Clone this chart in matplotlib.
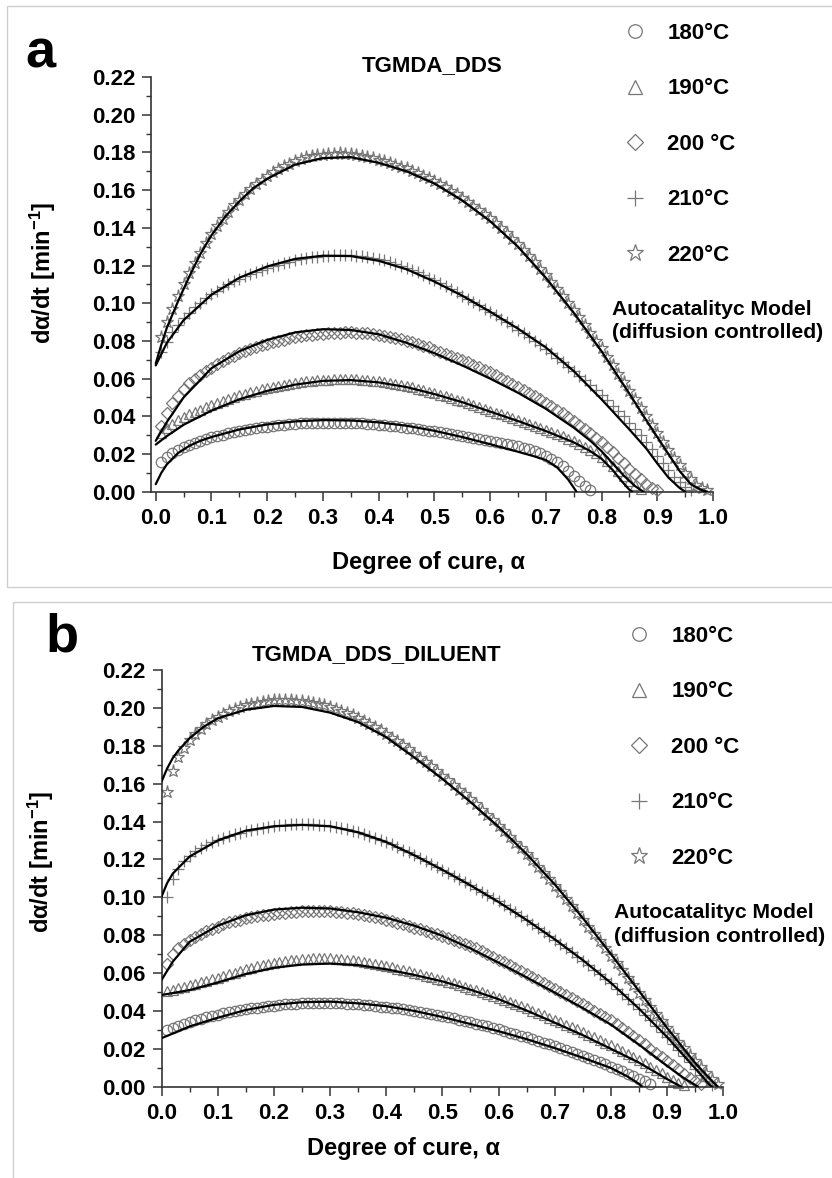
import matplotlib
matplotlib.use("Agg")
import matplotlib.pyplot as plt
from matplotlib.lines import Line2D
from matplotlib.patches import Rectangle
from matplotlib.ticker import MultipleLocator, FormatStrFormatter
import numpy as np

plt.rcParams['font.family'] = ['Liberation Sans', 'DejaVu Sans']
plt.rcParams['font.weight'] = 'bold'
plt.rcParams['axes.labelweight'] = 'bold'
plt.rcParams['mathtext.fontset'] = 'custom'
plt.rcParams['mathtext.rm'] = 'Liberation Sans:bold'
plt.rcParams['mathtext.bf'] = 'Liberation Sans:bold'
plt.rcParams['mathtext.it'] = 'Liberation Sans:bold'

temps = ['180°C', '190°C', '200 °C', '210°C', '220°C']
markers = ['o', '^', 'D', '+', '*']
marker_sizes = [7.5, 7.5, 6.3, 8.5, 9.5]

# ---------------- (a) TGMDA_DDS : experimental points, step 0.01 in alpha from 0.01
a180 = [0.0155, 0.0185, 0.0205, 0.0222, 0.0237, 0.0250, 0.0261, 0.0271, 0.0280, 0.0288,
        0.0296, 0.0303, 0.0310, 0.0316, 0.0322, 0.0327, 0.0332, 0.0337, 0.0341, 0.0345,
        0.0349, 0.0352, 0.0355, 0.0358, 0.0360, 0.0362, 0.0364, 0.0365, 0.0366, 0.0367,
        0.0367, 0.0367, 0.0367, 0.0366, 0.0365, 0.0364, 0.0362, 0.0360, 0.0358, 0.0356,
        0.0353, 0.0350, 0.0347, 0.0344, 0.0340, 0.0336, 0.0332, 0.0328, 0.0324, 0.0320,
        0.0315, 0.0311, 0.0306, 0.0301, 0.0296, 0.0291, 0.0286, 0.0281, 0.0276, 0.0271,
        0.0265, 0.0259, 0.0253, 0.0247, 0.0240, 0.0233, 0.0225, 0.0216, 0.0205, 0.0192,
        0.0176, 0.0157, 0.0135, 0.0110, 0.0083, 0.0055, 0.0030, 0.0010]
a190 = [0.0310, 0.0340, 0.0360, 0.0380, 0.0395, 0.0410, 0.0423, 0.0436, 0.0448, 0.0460,
        0.0471, 0.0482, 0.0492, 0.0502, 0.0511, 0.0520, 0.0528, 0.0536, 0.0543, 0.0550,
        0.0556, 0.0562, 0.0567, 0.0572, 0.0577, 0.0581, 0.0585, 0.0588, 0.0591, 0.0593,
        0.0595, 0.0596, 0.0597, 0.0597, 0.0597, 0.0596, 0.0594, 0.0592, 0.0589, 0.0586,
        0.0582, 0.0577, 0.0572, 0.0566, 0.0560, 0.0553, 0.0546, 0.0539, 0.0531, 0.0523,
        0.0515, 0.0506, 0.0497, 0.0488, 0.0479, 0.0469, 0.0460, 0.0450, 0.0440, 0.0430,
        0.0420, 0.0410, 0.0400, 0.0390, 0.0380, 0.0370, 0.0360, 0.0350, 0.0339, 0.0328,
        0.0317, 0.0305, 0.0293, 0.0280, 0.0267, 0.0253, 0.0238, 0.0222, 0.0204, 0.0184,
        0.0162, 0.0138, 0.0112, 0.0085, 0.0058, 0.0033, 0.0012]
a200 = [0.0350, 0.0420, 0.0470, 0.0510, 0.0545, 0.0575, 0.0600, 0.0620, 0.0640, 0.0657,
        0.0680, 0.0695, 0.0709, 0.0722, 0.0734, 0.0746, 0.0757, 0.0767, 0.0776, 0.0785,
        0.0793, 0.0800, 0.0807, 0.0813, 0.0819, 0.0824, 0.0829, 0.0833, 0.0836, 0.0839,
        0.0841, 0.0843, 0.0844, 0.0845, 0.0845, 0.0844, 0.0842, 0.0840, 0.0837, 0.0833,
        0.0828, 0.0822, 0.0816, 0.0809, 0.0801, 0.0793, 0.0784, 0.0775, 0.0765, 0.0754,
        0.0742, 0.0732, 0.0721, 0.0710, 0.0698, 0.0686, 0.0673, 0.0660, 0.0647, 0.0633,
        0.0619, 0.0604, 0.0589, 0.0574, 0.0558, 0.0542, 0.0525, 0.0508, 0.0491, 0.0473,
        0.0455, 0.0436, 0.0417, 0.0397, 0.0377, 0.0356, 0.0334, 0.0311, 0.0287, 0.0262,
        0.0236, 0.0209, 0.0181, 0.0152, 0.0122, 0.0093, 0.0066, 0.0042, 0.0022, 0.0008]
a210 = [0.0740, 0.0795, 0.0845, 0.0885, 0.0920, 0.0950, 0.0978, 0.1003, 0.1026, 0.1047,
        0.1066, 0.1084, 0.1101, 0.1116, 0.1130, 0.1143, 0.1155, 0.1166, 0.1177, 0.1187,
        0.1196, 0.1205, 0.1213, 0.1220, 0.1227, 0.1233, 0.1238, 0.1243, 0.1247, 0.1250,
        0.1252, 0.1254, 0.1255, 0.1255, 0.1254, 0.1252, 0.1249, 0.1245, 0.1240, 0.1234,
        0.1227, 0.1219, 0.1210, 0.1200, 0.1189, 0.1177, 0.1164, 0.1150, 0.1136, 0.1121,
        0.1106, 0.1090, 0.1074, 0.1057, 0.1040, 0.1023, 0.1006, 0.0989, 0.0971, 0.0953,
        0.0935, 0.0917, 0.0898, 0.0879, 0.0860, 0.0840, 0.0820, 0.0799, 0.0778, 0.0756,
        0.0734, 0.0711, 0.0688, 0.0664, 0.0640, 0.0615, 0.0590, 0.0564, 0.0538, 0.0511,
        0.0484, 0.0456, 0.0428, 0.0399, 0.0367, 0.0334, 0.0300, 0.0265, 0.0228, 0.0190,
        0.0152, 0.0115, 0.0080, 0.0050, 0.0025, 0.0010]
a220 = [0.0820, 0.0900, 0.0970, 0.1040, 0.1100, 0.1160, 0.1215, 0.1268, 0.1318, 0.1365,
        0.1408, 0.1448, 0.1485, 0.1519, 0.1550, 0.1579, 0.1606, 0.1631, 0.1654, 0.1675,
        0.1694, 0.1711, 0.1727, 0.1741, 0.1753, 0.1764, 0.1773, 0.1779, 0.1784, 0.1788,
        0.1792, 0.1794, 0.1795, 0.1794, 0.1791, 0.1787, 0.1782, 0.1776, 0.1768, 0.1760,
        0.1752, 0.1743, 0.1734, 0.1725, 0.1715, 0.1703, 0.1690, 0.1677, 0.1664, 0.1650,
        0.1633, 0.1615, 0.1597, 0.1579, 0.1560, 0.1539, 0.1517, 0.1495, 0.1473, 0.1450,
        0.1424, 0.1397, 0.1370, 0.1343, 0.1315, 0.1283, 0.1250, 0.1217, 0.1184, 0.1150,
        0.1114, 0.1077, 0.1040, 0.1003, 0.0965, 0.0925, 0.0884, 0.0843, 0.0802, 0.0760,
        0.0716, 0.0671, 0.0626, 0.0581, 0.0535, 0.0490, 0.0445, 0.0400, 0.0355, 0.0310,
        0.0265, 0.0222, 0.0180, 0.0140, 0.0100, 0.0065, 0.0038, 0.0018, 0.0007]

# (a) model curves (autocatalytic, diffusion controlled)
fa180_x = [0.0, 0.01, 0.02, 0.04, 0.06, 0.08, 0.10, 0.15, 0.20, 0.25, 0.30, 0.35, 0.40,
           0.45, 0.50, 0.55, 0.60, 0.65, 0.68, 0.70, 0.72, 0.74, 0.755]
fa180_y = [0.0040, 0.0100, 0.0145, 0.0205, 0.0243, 0.0270, 0.0290, 0.0330, 0.0357, 0.0373,
           0.0380, 0.0378, 0.0368, 0.0350, 0.0323, 0.0290, 0.0252, 0.0212, 0.0187, 0.0168,
           0.0130, 0.0065, 0.0]
fa190_x = [0.0, 0.02, 0.05, 0.10, 0.15, 0.20, 0.25, 0.30, 0.35, 0.40, 0.45, 0.50, 0.55,
           0.60, 0.65, 0.70, 0.75, 0.78, 0.80, 0.82, 0.835, 0.85, 0.855]
fa190_y = [0.0250, 0.0295, 0.0355, 0.0430, 0.0490, 0.0535, 0.0568, 0.0588, 0.0592, 0.0580,
           0.0555, 0.0518, 0.0475, 0.0425, 0.0375, 0.0322, 0.0262, 0.0215, 0.0175, 0.0115,
           0.0060, 0.0010, 0.0]
fa200_x = [0.0, 0.02, 0.05, 0.10, 0.15, 0.20, 0.25, 0.30, 0.35, 0.40, 0.45, 0.50, 0.55,
           0.60, 0.65, 0.70, 0.75, 0.78, 0.80, 0.82, 0.84, 0.86, 0.875]
fa200_y = [0.0270, 0.0370, 0.0500, 0.0655, 0.0745, 0.0805, 0.0845, 0.0862, 0.0858, 0.0835,
           0.0790, 0.0735, 0.0670, 0.0600, 0.0525, 0.0440, 0.0340, 0.0270, 0.0215, 0.0150,
           0.0085, 0.0030, 0.0]
fa210_x = [0.0, 0.02, 0.05, 0.10, 0.15, 0.20, 0.25, 0.30, 0.35, 0.40, 0.45, 0.50, 0.55,
           0.60, 0.65, 0.70, 0.75, 0.80, 0.85, 0.88, 0.90, 0.92, 0.94, 0.95]
fa210_y = [0.0670, 0.0790, 0.0910, 0.1045, 0.1135, 0.1195, 0.1235, 0.1252, 0.1250, 0.1225,
           0.1180, 0.1115, 0.1040, 0.0955, 0.0865, 0.0765, 0.0640, 0.0490, 0.0330, 0.0230,
           0.0150, 0.0075, 0.0020, 0.0]
fa220_x = [0.0, 0.01, 0.02, 0.04, 0.06, 0.08, 0.10, 0.125, 0.15, 0.175, 0.20, 0.25, 0.30,
           0.35, 0.40, 0.45, 0.50, 0.55, 0.60, 0.65, 0.70, 0.75, 0.80, 0.85, 0.88, 0.90,
           0.92, 0.94, 0.96, 0.98, 0.99]
fa220_y = [0.0680, 0.0780, 0.0870, 0.1010, 0.1140, 0.1260, 0.1360, 0.1460, 0.1540, 0.1610,
           0.1660, 0.1735, 0.1770, 0.1775, 0.1745, 0.1700, 0.1635, 0.1545, 0.1435, 0.1300,
           0.1135, 0.0950, 0.0745, 0.0520, 0.0380, 0.0290, 0.0200, 0.0110, 0.0040, 0.0008,
           0.0]

# ---------------- (b) TGMDA_DDS_DILUENT : experimental points
b180 = [0.0300, 0.0312, 0.0323, 0.0333, 0.0342, 0.0351, 0.0359, 0.0367, 0.0374, 0.0381,
        0.0387, 0.0393, 0.0399, 0.0404, 0.0409, 0.0413, 0.0417, 0.0421, 0.0424, 0.0428,
        0.0431, 0.0434, 0.0436, 0.0438, 0.0440, 0.0441, 0.0442, 0.0443, 0.0443, 0.0443,
        0.0442, 0.0441, 0.0439, 0.0437, 0.0435, 0.0432, 0.0429, 0.0426, 0.0423, 0.0420,
        0.0417, 0.0413, 0.0409, 0.0405, 0.0400, 0.0396, 0.0391, 0.0386, 0.0381, 0.0375,
        0.0368, 0.0361, 0.0354, 0.0347, 0.0340, 0.0333, 0.0325, 0.0318, 0.0310, 0.0302,
        0.0294, 0.0286, 0.0278, 0.0269, 0.0260, 0.0251, 0.0242, 0.0232, 0.0223, 0.0213,
        0.0203, 0.0193, 0.0183, 0.0172, 0.0162, 0.0151, 0.0140, 0.0129, 0.0118, 0.0106,
        0.0094, 0.0082, 0.0069, 0.0056, 0.0043, 0.0028, 0.0012]
b190 = [0.0505, 0.0512, 0.0519, 0.0527, 0.0535, 0.0543, 0.0551, 0.0559, 0.0567, 0.0575,
        0.0584, 0.0593, 0.0602, 0.0611, 0.0620, 0.0628, 0.0635, 0.0642, 0.0648, 0.0654,
        0.0659, 0.0664, 0.0668, 0.0671, 0.0674, 0.0676, 0.0677, 0.0678, 0.0678, 0.0677,
        0.0676, 0.0674, 0.0671, 0.0668, 0.0664, 0.0659, 0.0654, 0.0648, 0.0642, 0.0636,
        0.0630, 0.0623, 0.0616, 0.0609, 0.0602, 0.0595, 0.0587, 0.0579, 0.0571, 0.0563,
        0.0554, 0.0545, 0.0536, 0.0527, 0.0518, 0.0508, 0.0498, 0.0488, 0.0478, 0.0468,
        0.0457, 0.0446, 0.0435, 0.0424, 0.0413, 0.0401, 0.0389, 0.0377, 0.0365, 0.0353,
        0.0341, 0.0328, 0.0315, 0.0302, 0.0289, 0.0275, 0.0261, 0.0247, 0.0233, 0.0218,
        0.0203, 0.0188, 0.0172, 0.0156, 0.0140, 0.0123, 0.0106, 0.0088, 0.0070, 0.0052,
        0.0035, 0.0019, 0.0007]
b200 = [0.0650, 0.0700, 0.0730, 0.0755, 0.0775, 0.0792, 0.0807, 0.0820, 0.0831, 0.0841,
        0.0858, 0.0867, 0.0875, 0.0882, 0.0889, 0.0895, 0.0900, 0.0905, 0.0909, 0.0913,
        0.0916, 0.0919, 0.0921, 0.0923, 0.0925, 0.0926, 0.0926, 0.0926, 0.0926, 0.0925,
        0.0923, 0.0921, 0.0918, 0.0915, 0.0911, 0.0906, 0.0901, 0.0895, 0.0889, 0.0882,
        0.0874, 0.0866, 0.0858, 0.0849, 0.0840, 0.0832, 0.0823, 0.0814, 0.0805, 0.0796,
        0.0786, 0.0776, 0.0766, 0.0756, 0.0745, 0.0731, 0.0716, 0.0701, 0.0686, 0.0671,
        0.0656, 0.0641, 0.0626, 0.0611, 0.0596, 0.0580, 0.0564, 0.0548, 0.0532, 0.0516,
        0.0500, 0.0484, 0.0468, 0.0452, 0.0436, 0.0419, 0.0402, 0.0385, 0.0368, 0.0350,
        0.0330, 0.0309, 0.0288, 0.0267, 0.0245, 0.0223, 0.0201, 0.0179, 0.0157, 0.0135,
        0.0113, 0.0091, 0.0069, 0.0048, 0.0028, 0.0012]
b210 = [0.1000, 0.1095, 0.1150, 0.1190, 0.1220, 0.1243, 0.1262, 0.1278, 0.1292, 0.1304,
        0.1315, 0.1325, 0.1334, 0.1342, 0.1350, 0.1357, 0.1363, 0.1368, 0.1373, 0.1377,
        0.1380, 0.1383, 0.1385, 0.1386, 0.1387, 0.1387, 0.1386, 0.1384, 0.1381, 0.1377,
        0.1372, 0.1366, 0.1359, 0.1352, 0.1344, 0.1335, 0.1325, 0.1314, 0.1303, 0.1292,
        0.1279, 0.1265, 0.1251, 0.1237, 0.1222, 0.1207, 0.1192, 0.1177, 0.1161, 0.1145,
        0.1129, 0.1113, 0.1096, 0.1080, 0.1063, 0.1046, 0.1029, 0.1012, 0.0995, 0.0978,
        0.0959, 0.0939, 0.0920, 0.0900, 0.0880, 0.0859, 0.0838, 0.0817, 0.0796, 0.0775,
        0.0753, 0.0731, 0.0709, 0.0687, 0.0665, 0.0641, 0.0617, 0.0593, 0.0569, 0.0545,
        0.0518, 0.0491, 0.0464, 0.0437, 0.0410, 0.0381, 0.0351, 0.0321, 0.0291, 0.0262,
        0.0228, 0.0195, 0.0162, 0.0128, 0.0095, 0.0062, 0.0032, 0.0010]
b220 = [0.1555, 0.1665, 0.1740, 0.1790, 0.1830, 0.1862, 0.1890, 0.1914, 0.1935, 0.1953,
        0.1969, 0.1983, 0.1995, 0.2005, 0.2014, 0.2021, 0.2027, 0.2032, 0.2036, 0.2039,
        0.2040, 0.2041, 0.2040, 0.2038, 0.2035, 0.2031, 0.2026, 0.2020, 0.2013, 0.2005,
        0.1996, 0.1986, 0.1975, 0.1962, 0.1948, 0.1933, 0.1917, 0.1900, 0.1882, 0.1863,
        0.1843, 0.1823, 0.1802, 0.1781, 0.1759, 0.1737, 0.1714, 0.1691, 0.1667, 0.1643,
        0.1619, 0.1594, 0.1569, 0.1543, 0.1517, 0.1490, 0.1463, 0.1435, 0.1407, 0.1378,
        0.1349, 0.1319, 0.1289, 0.1258, 0.1227, 0.1195, 0.1162, 0.1129, 0.1095, 0.1061,
        0.1026, 0.0991, 0.0955, 0.0919, 0.0882, 0.0845, 0.0807, 0.0769, 0.0731, 0.0692,
        0.0653, 0.0614, 0.0575, 0.0536, 0.0497, 0.0459, 0.0421, 0.0383, 0.0346, 0.0309,
        0.0273, 0.0237, 0.0202, 0.0168, 0.0135, 0.0102, 0.0070, 0.0040, 0.0015]

# (b) model curves
fb180_x = [0.0, 0.05, 0.10, 0.15, 0.20, 0.25, 0.30, 0.35, 0.40, 0.45, 0.50, 0.55, 0.60,
           0.65, 0.70, 0.75, 0.80, 0.83, 0.85, 0.855]
fb180_y = [0.0256, 0.0318, 0.0364, 0.0405, 0.0432, 0.0446, 0.0449, 0.0440, 0.0425, 0.0400,
           0.0368, 0.0331, 0.0293, 0.0251, 0.0204, 0.0153, 0.0099, 0.0053, 0.0015, 0.0]
fb190_x = [0.0, 0.05, 0.10, 0.15, 0.20, 0.25, 0.30, 0.35, 0.40, 0.45, 0.50, 0.55, 0.60,
           0.65, 0.70, 0.75, 0.80, 0.85, 0.88, 0.90, 0.925]
fb190_y = [0.0484, 0.0510, 0.0550, 0.0595, 0.0628, 0.0645, 0.0650, 0.0642, 0.0620, 0.0590,
           0.0556, 0.0512, 0.0462, 0.0402, 0.0338, 0.0272, 0.0200, 0.0127, 0.0075, 0.0040,
           0.0]
fb200_x = [0.0, 0.02, 0.05, 0.10, 0.15, 0.20, 0.25, 0.30, 0.35, 0.40, 0.45, 0.50, 0.55,
           0.60, 0.65, 0.70, 0.75, 0.80, 0.85, 0.90, 0.93, 0.955]
fb200_y = [0.0563, 0.0660, 0.0765, 0.0850, 0.0905, 0.0935, 0.0945, 0.0941, 0.0921, 0.0892,
           0.0850, 0.0797, 0.0730, 0.0655, 0.0577, 0.0497, 0.0415, 0.0328, 0.0222, 0.0110,
           0.0045, 0.0]
fb210_x = [0.0, 0.01, 0.02, 0.05, 0.10, 0.15, 0.20, 0.25, 0.30, 0.35, 0.40, 0.45, 0.50,
           0.55, 0.60, 0.65, 0.70, 0.75, 0.80, 0.85, 0.90, 0.95, 0.975, 0.98]
fb210_y = [0.1003, 0.1075, 0.1125, 0.1215, 0.1300, 0.1352, 0.1375, 0.1382, 0.1375, 0.1343,
           0.1292, 0.1222, 0.1145, 0.1063, 0.0975, 0.0880, 0.0778, 0.0668, 0.0548, 0.0412,
           0.0262, 0.0097, 0.0012, 0.0]
fb220_x = [0.0, 0.01, 0.02, 0.03, 0.05, 0.075, 0.10, 0.15, 0.20, 0.25, 0.30, 0.35, 0.40,
           0.45, 0.50, 0.55, 0.60, 0.65, 0.70, 0.75, 0.80, 0.85, 0.90, 0.95, 0.98, 0.99]
fb220_y = [0.1610, 0.1680, 0.1735, 0.1775, 0.1840, 0.1900, 0.1945, 0.1990, 0.2010, 0.2005,
           0.1975, 0.1925, 0.1845, 0.1738, 0.1625, 0.1503, 0.1372, 0.1228, 0.1068, 0.0890,
           0.0700, 0.0505, 0.0310, 0.0125, 0.0030, 0.0]

GRAY = '#777777'
FS = 16


def alpha_steps(n):
    return np.round(np.arange(1, n + 1) * 0.01, 2)


def draw_panel(ax, points, fits, xmin):
    for pts, (fx, fy), m, ms in zip(points, fits, markers, marker_sizes):
        ax.plot(alpha_steps(len(pts)), pts, ls='none', marker=m, ms=ms, mfc='none',
                mec=GRAY, mew=0.9, clip_on=False, zorder=2)
        ax.plot(fx, fy, color='black', lw=1.6, zorder=3, solid_capstyle='round')
    ax.set_xlim(xmin, 1.0)
    ax.set_ylim(0, 0.22)
    ax.spines[['top', 'right']].set_visible(False)
    for s in ['left', 'bottom']:
        ax.spines[s].set_linewidth(1.2)
        ax.spines[s].set_color('#333333')
    ax.set_xticks(np.arange(0, 11) / 10)
    ax.set_yticks(np.arange(0, 12) * 0.02)
    ax.xaxis.set_minor_locator(MultipleLocator(0.05))
    ax.yaxis.set_minor_locator(MultipleLocator(0.01))
    ax.xaxis.set_major_formatter(FormatStrFormatter('%.1f'))
    ax.yaxis.set_major_formatter(FormatStrFormatter('%.2f'))
    ax.tick_params(which='major', length=6.5, width=1.1, color='#333333',
                   labelsize=FS, pad=5)
    ax.tick_params(which='minor', length=3.5, width=1.0, color='#333333')
    ax.set_xlabel('Degree of cure, α', fontsize=17, fontweight='bold')
    ax.set_ylabel('dα/dt [min$^{-1}$]', fontsize=17, fontweight='bold')


W, H = 832, 1178
fig = plt.figure(figsize=(W / 100, H / 100), dpi=100)

# panel frames
fig.add_artist(Rectangle((7 / W, 1 - 587 / H), 840 / W, 581 / H, transform=fig.transFigure,
                         fill=False, ec='#cfcfcf', lw=1.0))
fig.add_artist(Rectangle((13 / W, -10 / H), 840 / W, (H - 602 + 10) / H,
                         transform=fig.transFigure, fill=False, ec='#cfcfcf', lw=1.0))

ax_a = fig.add_axes([151 / W, 1 - 491.7 / H, 562 / W, 414.7 / H])
ax_b = fig.add_axes([161.5 / W, 1 - 1086.7 / H, 561.8 / W, 416.7 / H])

draw_panel(ax_a, [a180, a190, a200, a210, a220],
           [(fa180_x, fa180_y), (fa190_x, fa190_y), (fa200_x, fa200_y),
            (fa210_x, fa210_y), (fa220_x, fa220_y)], -0.0085)
draw_panel(ax_b, [b180, b190, b200, b210, b220],
           [(fb180_x, fb180_y), (fb190_x, fb190_y), (fb200_x, fb200_y),
            (fb210_x, fb210_y), (fb220_x, fb220_y)], 0.0)

ax_a.xaxis.set_label_coords(0.493, -0.143)
ax_a.yaxis.set_label_coords(-0.165, 0.527)
ax_b.xaxis.set_label_coords(0.43, -0.121)
ax_b.yaxis.set_label_coords(-0.187, 0.539)

ax_a.text(0.3754, 1.0145, 'TGMDA_DDS', transform=ax_a.transAxes, fontsize=FS,
          va='baseline')
ax_b.text(0.161, 1.024, 'TGMDA_DDS_DILUENT', transform=ax_b.transAxes, fontsize=FS,
          va='baseline')

fig.text(25 / W, 1 - 67 / H, 'a', fontsize=39, va='baseline')
fig.text(45 / W, 1 - 651 / H, 'b', fontsize=39, va='baseline')

handles = [Line2D([], [], ls='none', marker=m, ms=ms * 1.3, mfc='none', mec=GRAY, mew=0.9)
           for m, ms in zip(markers, marker_sizes)]
for anchor in [(624 / W, 1 - 23 / H), (628 / W, 1 - 626 / H)]:
    fig.legend(handles, temps, loc='upper left', bbox_to_anchor=anchor, frameon=False,
               fontsize=FS, handlelength=1.0, handletextpad=0.95, labelspacing=1.55,
               borderpad=0, borderaxespad=0)

fig.text(612 / W, 1 - 300 / H, 'Autocatalityc Model\n(diffusion controlled)',
         fontsize=15.2, va='top', linespacing=1.3)
fig.text(614 / W, 1 - 903 / H, 'Autocatalityc Model\n(diffusion controlled)',
         fontsize=15.2, va='top', linespacing=1.3)

fig.savefig('out.png', dpi=100)
